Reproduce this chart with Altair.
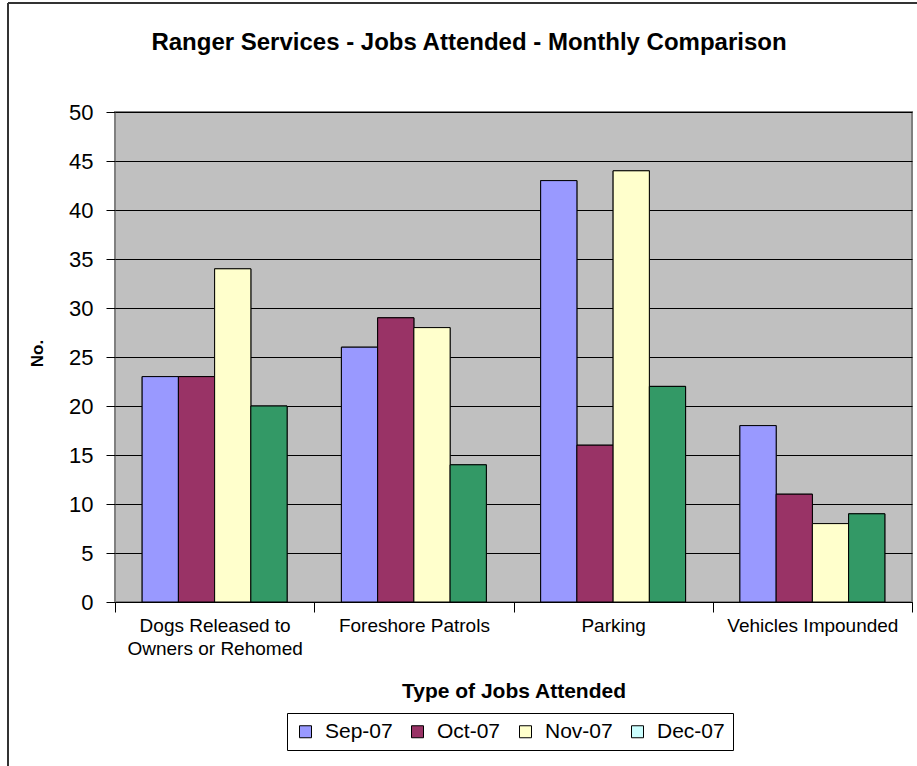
import altair as alt
import pandas as pd

# Jobs attended by rangers, per job type and month
chart_title = "Ranger Services - Jobs Attended  - Monthly Comparison"
categories = [
    "Dogs Released to Owners or Rehomed",
    "Foreshore Patrols",
    "Parking",
    "Vehicles Impounded",
]
months = ["Sep-07", "Oct-07", "Nov-07", "Dec-07"]
sep_07 = [23, 26, 43, 18]
oct_07 = [23, 29, 16, 11]
nov_07 = [34, 28, 44, 8]
dec_07 = [20, 14, 22, 9]

bar_colors = ["#9999FF", "#993366", "#FFFFCC", "#339966"]
legend_colors = ["#9999FF", "#993366", "#FFFFCC", "#CCFFFF"]

rows = []
for month, series in zip(months, [sep_07, oct_07, nov_07, dec_07]):
    for cat, val in zip(categories, series):
        rows.append({"category": cat, "month": month, "value": val})
df = pd.DataFrame(rows)
one_row = pd.DataFrame({"label": [chart_title]})

FONT = "Liberation Sans"
W, H = 797, 490
PAD_L, PAD_T = 115, 112

x_enc = alt.X(
    "category:N",
    sort=categories,
    scale=alt.Scale(paddingInner=0, paddingOuter=0),
    axis=alt.Axis(
        title="Type of Jobs Attended",
        titleFont=FONT,
        titleFontSize=21,
        titleFontWeight="bold",
        titlePadding=22,
        labelFont=FONT,
        labelFontSize=19,
        labelColor="black",
        labelAngle=0,
        labelPadding=4,
        labelLineHeight=23,
        labelExpr="datum.value == 'Dogs Released to Owners or Rehomed' ? ['Dogs Released to', 'Owners or Rehomed'] : datum.value",
        tickBand="extent",
        tickSize=10,
        tickColor="black",
        domainColor="black",
        grid=False,
    ),
)
# Gap of 150% of a bar width split across both sides of each group
xoff_enc = alt.XOffset(
    "month:N", sort=months, scale=alt.Scale(paddingInner=0, paddingOuter=0.75)
)
y_enc = alt.Y(
    "value:Q",
    scale=alt.Scale(domain=[0, 50], nice=False),
    axis=alt.Axis(
        title="No.",
        titleFont=FONT,
        titleFontSize=17,
        titleFontWeight="bold",
        titleX=-78,
        titleY=241,
        titleAlign="center",
        titleBaseline="middle",
        values=list(range(0, 55, 5)),
        labelFont=FONT,
        labelFontSize=22,
        labelColor="black",
        labelPadding=13,
        tickSize=9,
        tickColor="black",
        domain=False,
        grid=True,
        gridColor="black",
        gridWidth=1,
    ),
)

# Hidden layer underneath the bars that supplies the legend swatches
legend_layer = alt.Chart(df).mark_bar(stroke="black", strokeWidth=1).encode(
    x=x_enc,
    xOffset=xoff_enc,
    y=y_enc,
    color=alt.Color(
        "month:N",
        scale=alt.Scale(domain=months, range=legend_colors),
        legend=alt.Legend(
            title=None,
            orient="none",
            legendX=172,
            legendY=601,
            direction="horizontal",
            columns=4,
            symbolType="square",
            symbolSize=144,
            symbolStrokeColor="black",
            symbolStrokeWidth=1,
            labelFont=FONT,
            labelFontSize=21,
            labelColor="black",
            labelOffset=9,
            columnPadding=14,
            padding=8,
            strokeColor="black",
            fillColor="white",
        ),
    ),
)

bars = alt.Chart(df).mark_bar(stroke="black", strokeWidth=1).encode(
    x=x_enc,
    xOffset=xoff_enc,
    y=y_enc,
    color=alt.Color("month:N", scale=alt.Scale(domain=months, range=bar_colors), legend=None),
)

title_text = alt.Chart(one_row).mark_text(
    font=FONT, fontSize=24, fontWeight="bold", color="black", align="center", baseline="middle"
).encode(text="label:N", x=alt.value(469 - PAD_L), y=alt.value(43 - PAD_T))

# Outer chart frame (left and top edges)
frame_left = alt.Chart(one_row).mark_rule(color="#333333", strokeWidth=2).encode(
    x=alt.value(8 - PAD_L), y=alt.value(3 - PAD_T), y2=alt.value(H + 200)
)
frame_top = alt.Chart(one_row).mark_rule(color="#333333", strokeWidth=2).encode(
    x=alt.value(8 - PAD_L), x2=alt.value(W + 200), y=alt.value(3 - PAD_T)
)

chart = (
    alt.layer(legend_layer, bars, title_text, frame_left, frame_top)
    .resolve_scale(color="independent")
    .properties(
        width=W,
        height=H,
        autosize=alt.AutoSizeParams(type="none"),
        padding={"left": PAD_L, "top": PAD_T, "right": 917 - PAD_L - W, "bottom": 766 - PAD_T - H},
        background="white",
    )
    .configure_view(fill="#C0C0C0", stroke="#808080", strokeWidth=2)
)

chart.save("out.html", embed_options={"renderer": "svg", "actions": False})
